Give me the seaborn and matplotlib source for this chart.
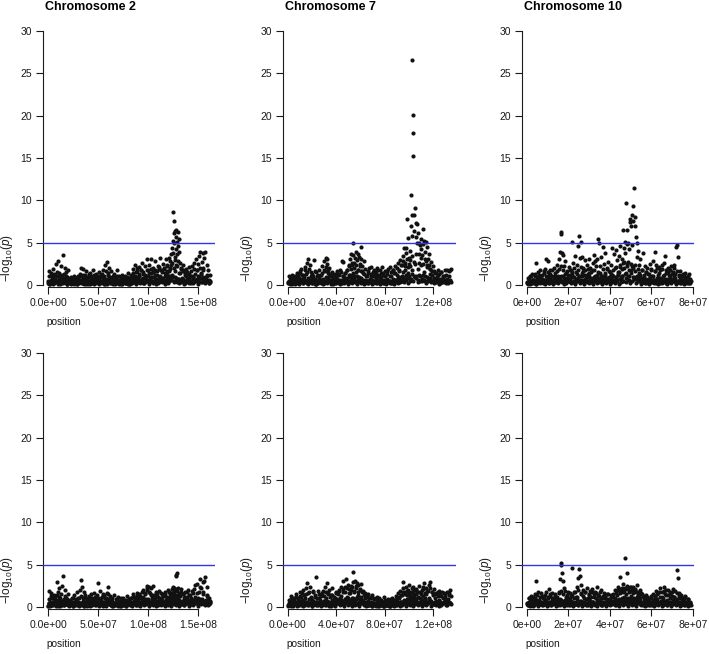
import numpy as np
import pandas as pd
import matplotlib
matplotlib.use("Agg")
import matplotlib.pyplot as plt
import seaborn as sns

# ---- data (positions in Mb, values are -log10 p) ----
titles = ["Chromosome 2", "Chromosome 7", "Chromosome 10"]
threshold = 5

chr2_pos = [
    0.5, 1.2, 1.9, 2.5, 3.4, 4.1, 4.8, 5.6, 6.3, 7.0,
    7.8, 8.5, 9.1, 9.9, 10.6, 11.4, 12.1, 12.9, 13.6, 14.3,
    15.1, 15.8, 16.6, 17.3, 18.1, 18.9, 19.6, 20.4, 21.2, 22.0,
    22.9, 23.8, 24.6, 25.5, 26.4, 27.3, 28.1, 29.0, 29.8, 30.7,
    31.5, 32.4, 33.2, 34.0, 34.9, 35.7, 36.6, 37.4, 38.3, 39.1,
    40.0, 40.8, 41.7, 42.5, 43.4, 44.2, 45.1, 45.9, 46.8, 47.6,
    48.5, 49.3, 50.2, 51.0, 51.9, 52.7, 53.6, 54.4, 55.3, 56.1,
    57.0, 57.8, 58.7, 59.5, 60.4, 61.2, 62.1, 62.9, 63.8, 64.6,
    65.5, 66.4, 67.3, 68.2, 69.1, 70.0, 70.9, 71.8, 72.7, 73.6,
    74.5, 75.4, 76.3, 77.2, 78.1, 79.0, 79.9, 80.8, 81.7, 82.6,
    83.4, 84.2, 85.0, 85.8, 86.6, 87.4, 88.2, 89.0, 89.8, 90.6,
    91.4, 92.2, 93.0, 93.8, 94.6, 95.4, 96.2, 97.0, 97.8, 98.6,
    99.4, 100.2, 101.0, 101.8, 102.6, 103.4, 104.2, 105.0, 105.8, 106.6,
    107.4, 108.2, 109.0, 109.8, 110.6, 111.4, 112.2, 113.0, 113.8, 114.6,
    115.4, 116.2, 117.0, 117.8, 118.6, 119.4, 120.2, 121.0, 121.7, 122.4,
    123.0, 123.6, 124.1, 124.6, 125.0, 125.3, 125.7, 126.0, 126.4, 126.8,
    127.2, 127.6, 128.0, 128.4, 128.8, 129.2, 129.6, 130.0, 130.5, 131.0,
    131.6, 132.3, 133.0, 133.8, 134.6, 135.4, 136.2, 137.0, 137.8, 138.6,
    139.4, 140.2, 141.0, 141.8, 142.6, 143.4, 144.2, 145.0, 145.8, 146.6,
    147.4, 148.2, 149.0, 149.8, 150.6, 151.4, 152.2, 153.0, 153.8, 154.6,
    155.4, 156.2, 157.0, 157.8, 158.6, 159.4, 160.2, 161.0, 161.6, 162.0,
    # low band
    0.9, 2.8, 4.5, 6.0, 7.4, 9.5, 11.0, 12.5, 14.0, 15.5,
    17.0, 18.5, 20.0, 21.6, 23.3, 25.0, 26.8, 28.5, 30.2, 32.0,
    33.6, 35.3, 37.0, 38.7, 40.4, 42.1, 43.8, 45.5, 47.2, 48.9,
    50.6, 52.3, 54.0, 55.7, 57.4, 59.1, 60.8, 62.5, 64.2, 65.9,
    67.6, 69.3, 71.0, 72.7, 74.4, 76.1, 77.8, 79.5, 81.2, 82.9,
    84.6, 86.3, 88.0, 89.7, 91.4, 93.1, 94.8, 96.5, 98.2, 99.9,
    101.6, 103.3, 105.0, 106.7, 108.4, 110.1, 111.8, 113.5, 115.2, 116.9,
    118.6, 120.3, 122.0, 123.4, 124.8, 126.2, 127.4, 128.6, 129.8, 131.2,
    132.7, 134.3, 136.0, 137.7, 139.4, 141.1, 142.8, 144.5, 146.2, 147.9,
    149.6, 151.3, 153.0, 154.7, 156.4, 158.1, 159.8, 161.3, 0.2, 160.6,
    # band 2
    0.3, 1.4, 2.2, 3.0, 3.9, 5.1, 6.0, 6.8, 8.1, 9.0,
    10.2, 11.1, 12.3, 13.2, 14.6, 15.7, 16.4, 17.7, 18.6, 19.9,
    21.0, 21.9, 23.0, 24.1, 25.2, 26.1, 27.0, 28.3, 29.4, 30.4,
    31.2, 32.8, 33.8, 34.6, 35.9, 36.9, 37.8, 39.0, 40.2, 41.3,
    42.2, 43.1, 44.4, 45.6, 46.5, 47.4, 48.7, 49.8, 50.8, 51.6,
    52.9, 53.9, 54.8, 56.0, 57.2, 58.2, 59.2, 60.1, 61.5, 62.4,
    63.4, 64.4, 65.3, 66.7, 67.9, 68.6, 69.7, 70.6, 71.9, 73.0,
    74.0, 75.0, 75.9, 76.9, 77.9, 78.7, 79.9, 81.0, 82.0, 83.0,
    84.0, 85.2, 86.2, 87.0, 88.0, 89.3, 90.3, 91.2, 92.4, 93.4,
    94.2, 95.1, 96.0, 97.3, 98.4, 99.0, 100.5, 101.3, 102.2, 103.0,
    104.5, 105.4, 106.3, 107.1, 107.9, 109.4, 110.3, 111.0, 112.6, 113.4,
    114.2, 115.8, 116.5, 117.4, 118.2, 119.0, 119.8, 120.7, 121.4, 122.2,
    123.2, 124.3, 125.5, 126.6, 127.8, 128.2, 129.4, 130.3, 131.4, 132.5,
    133.4, 134.9, 135.8, 136.6, 138.2, 139.0, 140.6, 141.4, 142.2, 143.8,
    144.8, 145.5, 147.0, 148.6, 150.2, 151.8, 153.4, 155.0, 156.6, 158.5,
    # band 3
    0.7, 2.0, 3.6, 5.3, 6.6, 8.2, 9.8, 11.3, 13.0, 14.8,
    16.2, 17.9, 19.3, 20.8, 22.5, 24.3, 26.0, 27.6, 29.2, 31.0,
    32.6, 34.3, 36.1, 37.6, 39.5, 41.1, 42.9, 44.6, 46.1, 48.0,
    49.6, 51.4, 53.0, 54.6, 56.5, 58.0, 59.8, 61.6, 63.1, 64.9,
    66.5, 68.0, 69.9, 71.5, 73.3, 74.9, 76.6, 78.4, 80.2, 81.8,
    83.7, 85.5, 87.2, 88.7, 90.2, 92.0, 93.6, 95.6, 97.1, 98.9,
    100.8, 102.4, 104.0, 105.7, 107.6, 109.1, 110.8, 112.4, 114.0, 115.9,
    117.6, 119.2, 120.9, 122.6, 124.0, 125.8, 127.0, 128.9, 130.7, 132.0,
    133.6, 135.1, 136.9, 138.5, 140.0, 141.9, 143.5, 145.2, 146.9, 148.5,
    150.0, 151.9, 153.7, 155.2, 157.3, 158.9, 160.5, 161.8, 1.7, 121.8,
]
chr2_top = [
    0.3, 1.6, 0.5, 0.2, 1.1, 0.7, 1.9, 0.4, 1.3, 0.6,
    2.5, 0.3, 1.0, 2.8, 0.5, 1.4, 0.2, 2.2, 0.8, 1.2,
    3.5, 0.6, 2.0, 0.3, 1.5, 0.9, 1.8, 0.4, 0.7, 0.2,
    0.9, 0.3, 0.6, 1.0, 0.2, 0.5, 0.8, 0.3, 1.1, 0.4,
    0.6, 1.3, 2.0, 0.4, 1.9, 0.7, 1.2, 0.3, 1.6, 0.5,
    0.9, 0.3, 1.4, 0.6, 1.1, 0.2, 1.7, 0.5, 0.8, 1.3,
    0.4, 1.0, 0.6, 1.5, 0.3, 1.2, 0.5, 0.9, 1.8, 0.4,
    2.3, 0.7, 2.7, 1.4, 0.3, 2.0, 0.6, 1.6, 0.4, 1.1,
    0.5, 1.3, 0.2, 0.8, 1.8, 0.4, 1.0, 0.3, 0.7, 1.2,
    0.3, 0.9, 0.5, 1.1, 0.2, 0.6, 1.4, 0.4, 0.8, 0.3,
    1.2, 0.5, 1.9, 0.7, 2.3, 0.4, 1.5, 2.0, 0.6, 1.1,
    2.1, 0.4, 1.7, 2.6, 0.8, 1.3, 0.3, 2.2, 1.0, 3.1,
    0.6, 1.8, 2.4, 0.5, 1.4, 3.0, 0.9, 2.0, 0.4, 1.6,
    2.8, 0.7, 1.2, 2.2, 0.3, 1.9, 3.2, 0.8, 1.5, 2.5,
    0.5, 2.0, 1.1, 3.0, 1.6, 2.4, 0.7, 3.2, 1.9, 2.8,
    3.6, 1.2, 4.4, 5.2, 8.6, 3.8, 7.6, 4.9, 6.1, 3.3,
    6.4, 4.2, 5.6, 6.5, 3.7, 5.1, 6.2, 4.6, 5.4, 3.9,
    2.6, 1.4, 2.0, 0.6, 1.7, 2.3, 0.4, 1.2, 1.9, 0.7,
    1.5, 0.3, 2.1, 1.0, 0.5, 1.6, 2.2, 0.8, 2.6, 1.3,
    0.4, 3.0, 1.8, 2.5, 0.9, 3.4, 3.9, 1.4, 2.7, 3.8,
    2.0, 3.2, 3.9, 0.6, 2.4, 1.1, 1.7, 0.5, 1.2, 0.3,
    # low band
    0.2, 0.5, 0.1, 0.4, 0.7, 0.3, 0.6, 0.2, 0.5, 0.8,
    0.3, 0.1, 0.6, 0.4, 0.2, 0.5, 0.3, 0.1, 0.4, 0.6,
    0.2, 0.7, 0.3, 0.5, 0.1, 0.4, 0.6, 0.2, 0.3, 0.5,
    0.8, 0.2, 0.4, 0.1, 0.6, 0.3, 0.9, 0.5, 0.2, 0.4,
    0.3, 0.6, 0.1, 0.5, 0.2, 0.4, 0.3, 0.7, 0.1, 0.5,
    0.9, 0.3, 0.7, 0.4, 1.0, 0.6, 0.2, 0.8, 0.5, 1.1,
    0.4, 0.9, 0.3, 1.2, 0.6, 0.2, 1.0, 0.5, 0.8, 0.3,
    1.3, 0.6, 1.0, 2.4, 0.9, 2.0, 1.6, 2.2, 0.7, 1.4,
    0.5, 0.8, 0.3, 1.0, 0.4, 0.7, 0.2, 0.9, 0.5, 0.6,
    1.0, 0.4, 1.3, 0.7, 0.3, 0.9, 0.5, 0.2, 0.4, 0.6,
    # band 2
    0.2, 1.0, 0.1, 1.4, 0.3, 0.9, 0.2, 1.2, 0.4, 1.5,
    0.3, 1.1, 0.1, 0.8, 0.2, 1.3, 0.4, 1.0, 0.1, 0.6,
    0.3, 0.8, 0.1, 0.6, 0.2, 0.9, 0.3, 0.5, 0.1, 0.7,
    0.2, 1.1, 0.4, 1.2, 0.1, 1.0, 0.3, 0.8, 0.2, 1.3,
    0.1, 0.9, 0.3, 1.2, 0.2, 1.0, 0.4, 0.8, 0.1, 1.1,
    0.3, 1.3, 0.2, 1.0, 0.4, 1.6, 0.1, 1.2, 0.3, 0.9,
    0.2, 0.7, 0.1, 0.9, 0.3, 1.0, 0.2, 0.6, 0.4, 0.8,
    0.1, 0.6, 0.3, 0.8, 0.2, 0.9, 0.1, 0.7, 0.3, 1.0,
    0.2, 1.4, 0.4, 1.1, 0.1, 1.6, 0.3, 1.3, 0.2, 1.8,
    0.4, 1.5, 0.2, 1.2, 0.5, 1.7, 0.1, 1.4, 0.3, 1.9,
    0.2, 1.5, 0.4, 1.8, 0.1, 1.6, 0.3, 2.1, 0.5, 1.7,
    0.3, 1.9, 0.1, 1.4, 0.4, 2.2, 0.2, 1.6, 0.5, 2.0,
    0.6, 2.6, 0.3, 2.9, 0.8, 2.4, 0.4, 2.8, 0.2, 1.9,
    0.3, 1.6, 0.1, 1.4, 0.4, 1.5, 0.2, 1.3, 0.5, 1.1,
    0.2, 1.9, 0.4, 1.7, 0.1, 2.0, 0.3, 1.8, 0.2, 1.2,
    # band 3
    0.1, 0.4, 0.2, 0.6, 0.3, 0.5, 0.1, 0.7, 0.2, 0.4,
    0.3, 0.6, 0.1, 0.5, 0.2, 0.3, 0.1, 0.4, 0.2, 0.5,
    0.4, 0.2, 0.6, 0.1, 0.3, 0.5, 0.2, 0.7, 0.1, 0.4,
    0.2, 0.5, 0.3, 0.7, 0.1, 0.4, 0.6, 0.2, 0.5, 0.3,
    0.1, 0.3, 0.2, 0.5, 0.1, 0.4, 0.2, 0.3, 0.6, 0.1,
    0.5, 0.8, 0.3, 0.6, 0.9, 0.4, 0.7, 0.2, 0.8, 0.5,
    0.3, 0.7, 0.5, 0.9, 0.2, 0.6, 0.8, 0.4, 0.7, 0.3,
    0.6, 0.9, 0.4, 0.8, 1.0, 0.5, 0.9, 0.3, 0.7, 0.6,
    0.4, 0.7, 0.2, 0.6, 0.8, 0.3, 0.5, 0.9, 0.4, 0.7,
    0.5, 0.8, 0.3, 0.9, 0.6, 0.4, 0.2, 0.5, 0.3, 0.8,
]
chr2_bot = [
    0.4, 1.9, 0.2, 1.6, 0.6, 1.0, 0.3, 1.4, 0.5, 1.2,
    0.8, 2.9, 0.3, 1.8, 2.2, 0.6, 1.1, 0.4, 2.5, 0.7,
    3.6, 0.5, 1.3, 2.0, 0.3, 0.9, 1.5, 0.4, 0.7, 0.2,
    0.6, 0.3, 1.0, 0.5, 1.4, 0.2, 0.8, 1.7, 0.4, 1.1,
    2.0, 0.5, 3.2, 2.4, 0.7, 1.8, 0.3, 1.2, 0.6, 0.9,
    0.4, 1.3, 0.7, 1.5, 0.2, 1.0, 0.5, 1.6, 0.3, 0.8,
    1.4, 0.6, 2.8, 0.4, 1.9, 0.8, 1.2, 0.3, 1.5, 0.6,
    1.0, 0.4, 1.6, 0.9, 2.4, 0.3, 1.3, 0.6, 1.1, 0.5,
    0.2, 1.4, 0.5, 0.9, 0.3, 1.2, 0.7, 0.4, 1.0, 0.6,
    0.3, 1.1, 0.5, 0.8, 0.2, 1.3, 0.4, 0.9, 0.6, 0.3,
    1.0, 0.4, 1.5, 0.7, 1.2, 0.3, 0.9, 1.6, 0.5, 1.1,
    0.6, 1.3, 0.4, 1.8, 0.7, 1.2, 0.3, 1.5, 0.9, 2.0,
    2.5, 0.8, 2.4, 1.6, 0.5, 2.2, 1.1, 2.5, 0.6, 1.4,
    0.9, 1.7, 0.4, 1.2, 0.7, 1.9, 0.5, 1.0, 1.5, 0.6,
    1.3, 0.4, 1.8, 0.8, 1.2, 0.5, 2.0, 0.9, 1.5, 0.7,
    1.6, 2.1, 0.6, 1.3, 2.3, 0.9, 1.8, 0.5, 2.2, 1.1,
    1.4, 0.7, 3.8, 3.6, 4.0, 1.9, 1.2, 2.2, 0.8, 1.6,
    0.5, 1.3, 2.1, 0.7, 1.5, 0.4, 1.0, 1.8, 0.6, 1.2,
    0.9, 2.0, 0.4, 1.4, 0.7, 1.1, 0.3, 1.6, 0.8, 2.6,
    1.2, 0.5, 2.7, 1.0, 1.8, 0.6, 3.3, 2.2, 0.9, 2.9,
    1.5, 3.0, 3.5, 0.8, 2.3, 1.4, 0.6, 1.1, 0.4, 0.7,
    # low band
    0.4, 0.2, 0.6, 0.3, 0.5, 0.1, 0.8, 0.4, 0.2, 0.6,
    0.5, 0.3, 0.2, 0.7, 0.4, 0.1, 0.5, 0.3, 0.6, 0.2,
    0.4, 0.3, 0.6, 0.1, 0.5, 0.7, 0.2, 0.4, 0.3, 0.6,
    0.3, 0.5, 0.2, 0.6, 0.4, 0.8, 0.3, 0.5, 0.1, 0.4,
    0.5, 0.2, 0.4, 0.1, 0.3, 0.6, 0.2, 0.4, 0.5, 0.3,
    0.6, 0.4, 0.2, 0.7, 0.5, 0.3, 0.8, 0.6, 0.4, 0.9,
    0.5, 0.3, 0.7, 0.4, 0.6, 0.2, 0.5, 0.8, 0.3, 0.6,
    0.4, 0.7, 0.3, 0.9, 0.5, 0.6, 1.2, 0.8, 0.4, 0.7,
    0.3, 0.6, 0.2, 0.5, 0.4, 0.7, 0.3, 0.8, 0.6, 0.9,
    0.5, 0.8, 0.4, 0.7, 0.3, 0.6, 0.2, 0.4, 0.1, 0.5,
    # band 2
    0.1, 0.9, 0.3, 1.3, 0.2, 1.1, 0.4, 0.8, 0.1, 1.4,
    0.3, 1.2, 0.1, 1.5, 0.4, 0.9, 0.2, 1.1, 0.3, 0.7,
    0.2, 0.8, 0.4, 1.0, 0.1, 0.6, 0.3, 0.9, 0.2, 1.1,
    0.4, 1.3, 0.2, 1.0, 0.1, 1.4, 0.3, 0.9, 0.2, 1.2,
    0.1, 1.1, 0.3, 0.8, 0.2, 1.2, 0.4, 1.0, 0.1, 0.9,
    0.3, 1.2, 0.1, 1.4, 0.2, 1.0, 0.4, 1.5, 0.3, 0.8,
    0.2, 0.7, 0.1, 0.5, 0.3, 0.9, 0.2, 0.6, 0.1, 0.8,
    0.3, 0.6, 0.2, 0.7, 0.1, 0.8, 0.3, 0.9, 0.2, 1.1,
    0.1, 1.2, 0.4, 1.0, 0.2, 1.3, 0.3, 1.5, 0.1, 1.1,
    0.4, 2.0, 0.2, 1.6, 0.3, 2.2, 0.1, 1.8, 0.4, 1.4,
    0.2, 1.4, 0.3, 1.2, 0.1, 1.5, 0.4, 1.0, 0.2, 1.6,
    0.3, 1.3, 0.1, 1.5, 0.4, 1.1, 0.2, 1.7, 0.3, 1.2,
    0.1, 1.6, 0.3, 1.9, 0.2, 2.1, 0.4, 1.4, 0.1, 1.8,
    0.3, 1.5, 0.2, 1.2, 0.4, 1.8, 0.1, 1.4, 0.3, 1.9,
    0.2, 2.1, 0.4, 1.6, 0.1, 2.3, 0.3, 1.7, 0.2, 1.3,
    # band 3
    0.3, 0.1, 0.5, 0.2, 0.6, 0.4, 0.2, 0.5, 0.3, 0.7,
    0.2, 0.4, 0.6, 0.1, 0.3, 0.5, 0.2, 0.6, 0.4, 0.1,
    0.5, 0.3, 0.1, 0.6, 0.4, 0.2, 0.7, 0.3, 0.5, 0.2,
    0.4, 0.2, 0.6, 0.3, 0.5, 0.1, 0.4, 0.7, 0.2, 0.5,
    0.2, 0.5, 0.1, 0.4, 0.3, 0.2, 0.5, 0.1, 0.3, 0.4,
    0.3, 0.6, 0.4, 0.8, 0.2, 0.5, 0.7, 0.3, 0.6, 0.8,
    0.6, 0.3, 0.8, 0.5, 0.7, 0.2, 0.6, 0.4, 0.8, 0.5,
    0.4, 0.7, 0.3, 0.6, 0.5, 0.8, 0.4, 0.9, 0.3, 0.6,
    0.5, 0.3, 0.7, 0.4, 0.6, 0.8, 0.3, 0.5, 0.7, 0.4,
    0.6, 0.9, 0.4, 0.7, 0.5, 0.8, 0.3, 0.6, 0.2, 0.5,
]

chr7_pos = [
    0.5, 1.1, 1.8, 2.4, 3.1, 3.7, 4.4, 5.0, 5.7, 6.3,
    7.0, 7.6, 8.3, 8.9, 9.6, 10.2, 10.9, 11.5, 12.2, 12.8,
    13.5, 14.1, 14.8, 15.4, 16.1, 16.7, 17.4, 18.0, 18.7, 19.3,
    20.0, 20.7, 21.4, 22.1, 22.8, 23.5, 24.2, 24.9, 25.6, 26.3,
    27.0, 27.7, 28.4, 29.1, 29.8, 30.5, 31.2, 31.9, 32.6, 33.3,
    34.0, 34.7, 35.4, 36.1, 36.8, 37.5, 38.2, 38.9, 39.6, 40.3,
    41.0, 41.7, 42.4, 43.1, 43.8, 44.5, 45.2, 45.9, 46.6, 47.3,
    48.0, 48.7, 49.4, 50.1, 50.8, 51.5, 52.2, 52.9, 53.5, 54.1,
    54.7, 55.3, 55.9, 56.5, 57.1, 57.7, 58.3, 58.9, 59.5, 60.1,
    60.7, 61.3, 62.0, 62.7, 63.4, 64.1, 64.8, 65.5, 66.2, 66.9,
    67.6, 68.3, 69.0, 69.7, 70.4, 71.1, 71.8, 72.5, 73.2, 73.9,
    74.6, 75.3, 76.0, 76.7, 77.4, 78.1, 78.8, 79.5, 80.2, 80.9,
    81.6, 82.3, 83.0, 83.7, 84.4, 85.1, 85.8, 86.5, 87.2, 87.9,
    88.6, 89.3, 90.0, 90.7, 91.4, 92.1, 92.8, 93.5, 94.2, 94.9,
    95.5, 96.1, 96.7, 97.3, 97.9, 98.5, 99.1, 99.7, 100.3, 100.9,
    101.4, 101.9, 102.3, 102.7, 103.0, 103.2, 103.5, 103.8, 104.2, 104.6,
    105.0, 105.5, 106.0, 106.5, 107.0, 107.5, 108.0, 108.5, 109.1, 109.7,
    110.3, 110.9, 111.5, 112.1, 112.7, 113.3, 113.9, 114.5, 115.1, 115.7,
    116.3, 116.9, 117.6, 118.3, 119.0, 119.7, 120.4, 121.1, 121.8, 122.5,
    123.2, 123.9, 124.6, 125.3, 126.0, 126.7, 127.4, 128.1, 128.8, 129.5,
    130.2, 130.9, 131.6, 132.3, 133.0, 133.7, 134.4, 135.0,
    # low band
    0.2, 1.5, 2.9, 4.2, 5.5, 6.9, 8.2, 9.5, 10.9, 12.2,
    13.6, 14.9, 16.3, 17.6, 19.0, 20.3, 21.7, 23.0, 24.4, 25.7,
    27.1, 28.4, 29.8, 31.1, 32.5, 33.8, 35.2, 36.5, 37.9, 39.2,
    40.6, 41.9, 43.3, 44.6, 46.0, 47.3, 48.7, 50.0, 51.4, 52.7,
    54.1, 55.4, 56.8, 58.1, 59.5, 60.8, 62.2, 63.5, 64.9, 66.2,
    67.6, 68.9, 70.3, 71.6, 73.0, 74.3, 75.7, 77.0, 78.4, 79.7,
    81.1, 82.4, 83.8, 85.1, 86.5, 87.8, 89.2, 90.5, 91.9, 93.2,
    94.6, 95.9, 97.0, 98.2, 99.4, 100.6, 101.7, 102.9, 104.0, 105.2,
    106.3, 107.5, 108.7, 109.9, 111.1, 112.3, 113.6, 114.9, 116.2, 117.6,
    119.0, 120.5, 122.0, 123.6, 125.2, 126.8, 128.4, 130.0, 131.6, 133.4,
    # band 2
    0.3, 1.4, 2.1, 3.0, 4.0, 4.7, 5.6, 6.6, 7.3, 8.4,
    9.2, 10.0, 11.0, 11.8, 12.6, 13.8, 14.5, 15.1, 16.4, 17.1,
    18.3, 19.0, 19.8, 20.9, 21.6, 22.5, 23.2, 24.5, 25.3, 26.0,
    27.2, 28.0, 28.8, 29.6, 30.7, 31.5, 32.3, 33.1, 34.2, 35.0,
    35.9, 36.7, 37.7, 38.5, 39.3, 40.0, 41.2, 42.0, 42.8, 43.6,
    44.8, 45.5, 46.4, 47.1, 48.3, 49.0, 49.8, 50.5, 51.2, 52.0,
    52.6, 53.3, 54.0, 54.9, 55.6, 56.4, 57.3, 58.0, 59.0, 59.8,
    60.5, 61.6, 62.5, 63.2, 64.3, 65.1, 65.9, 66.6, 67.8, 68.6,
    69.4, 70.2, 71.0, 71.9, 72.8, 73.6, 74.3, 75.1, 76.3, 77.1,
    78.0, 78.9, 79.8, 80.6, 81.3, 82.1, 82.9, 84.0, 84.8, 85.5,
    86.2, 87.0, 88.0, 88.9, 89.7, 90.4, 91.2, 92.0, 93.0, 93.8,
    94.5, 95.3, 96.0, 96.9, 97.6, 98.3, 99.0, 99.8, 100.6, 101.2,
    102.0, 102.8, 103.6, 104.4, 105.3, 106.2, 107.2, 108.2, 109.2, 110.1,
    111.0, 111.8, 112.5, 113.5, 114.2, 115.0, 116.0, 117.1, 118.0, 119.3,
    120.6, 121.5, 122.8, 124.0, 125.0, 126.3, 127.6, 129.0, 131.1, 133.0,
    # band 3
    0.8, 2.6, 3.5, 4.9, 6.1, 7.9, 8.7, 10.5, 11.3, 13.1,
    14.4, 15.8, 17.0, 18.4, 19.6, 21.1, 22.3, 23.8, 25.0, 26.6,
    27.5, 29.3, 30.1, 31.8, 33.0, 34.5, 35.7, 37.2, 38.4, 39.9,
    41.4, 42.6, 44.0, 45.1, 46.8, 47.8, 49.2, 50.3, 51.8, 53.0,
    54.4, 55.8, 57.0, 58.5, 59.2, 60.3, 61.9, 63.7, 64.6, 66.5,
    67.3, 69.2, 70.7, 72.2, 73.4, 74.9, 76.5, 77.8, 79.2, 80.4,
    81.9, 83.3, 84.6, 86.0, 87.5, 88.4, 89.9, 91.6, 92.5, 94.0,
    95.2, 96.4, 97.5, 98.8, 100.0, 101.0, 102.5, 104.8, 105.9, 107.8,
    108.9, 110.6, 112.0, 113.1, 114.7, 116.5, 117.9, 119.6, 121.2, 122.3,
    123.8, 125.5, 127.0, 128.6, 129.9, 131.3, 132.6, 133.9, 134.8, 66.0,
]
chr7_top = [
    0.4, 1.0, 0.2, 0.7, 1.2, 0.3, 0.6, 0.9, 0.2, 1.1,
    0.5, 1.4, 0.3, 0.8, 1.6, 0.4, 1.9, 0.6, 1.2, 0.3,
    0.9, 2.1, 0.4, 1.5, 2.6, 3.1, 0.6, 2.3, 1.1, 0.5,
    1.3, 0.3, 2.9, 0.7, 1.5, 0.4, 1.0, 0.2, 1.8, 0.6,
    0.4, 1.2, 2.2, 0.6, 2.8, 1.6, 3.2, 2.5, 3.0, 1.4,
    2.0, 0.5, 1.1, 0.3, 1.5, 0.7, 1.2, 0.4, 0.9, 1.6,
    0.3, 1.3, 0.6, 1.8, 0.4, 2.8, 1.1, 2.7, 0.5, 1.4,
    0.8, 1.7, 0.4, 2.2, 1.2, 3.0, 3.7, 2.4, 4.9, 3.5,
    2.6, 3.2, 1.5, 3.9, 2.9, 3.6, 1.8, 3.3, 2.5, 3.1,
    4.5, 2.2, 1.4, 2.8, 0.6, 1.9, 1.1, 0.4, 1.6, 2.0,
    0.7, 1.3, 2.1, 0.4, 1.0, 1.8, 0.3, 1.5, 0.8, 2.0,
    1.2, 0.5, 1.7, 0.9, 2.1, 0.3, 1.4, 0.6, 1.0, 0.4,
    1.6, 0.7, 1.9, 0.4, 2.1, 1.1, 0.3, 1.8, 0.6, 1.4,
    2.2, 0.5, 1.2, 2.6, 0.8, 1.7, 2.9, 0.4, 2.3, 3.4,
    1.5, 4.3, 2.6, 3.8, 4.4, 7.8, 2.1, 5.5, 3.2, 4.0,
    6.9, 10.6, 5.8, 8.2, 26.6, 20.1, 17.9, 15.2, 8.3, 6.4,
    9.1, 7.3, 5.6, 7.2, 4.9, 6.1, 5.0, 3.7, 4.7, 4.2,
    5.4, 3.5, 6.6, 4.8, 5.2, 3.9, 5.1, 2.8, 4.5, 3.1,
    2.4, 3.6, 1.9, 2.7, 1.2, 2.2, 0.8, 1.6, 0.5, 1.4,
    0.9, 1.7, 0.4, 1.3, 0.7, 1.5, 0.3, 1.1, 0.6, 1.8,
    0.5, 1.2, 1.8, 0.4, 1.0, 1.7, 0.6, 1.9,
    # low band
    0.3, 0.6, 0.2, 0.5, 0.1, 0.4, 0.7, 0.3, 0.5, 0.2,
    0.6, 0.4, 0.8, 0.3, 0.5, 0.2, 0.6, 0.1, 0.4, 0.7,
    0.3, 0.5, 0.2, 0.9, 0.6, 1.1, 0.4, 0.2, 0.5, 0.3,
    0.7, 0.2, 0.5, 0.3, 0.8, 0.4, 0.6, 0.2, 1.2, 0.7,
    1.4, 0.5, 1.0, 0.8, 0.3, 1.6, 0.6, 0.2, 0.5, 0.4,
    0.3, 0.6, 0.2, 0.5, 0.8, 0.3, 0.4, 0.7, 0.2, 0.5,
    0.6, 0.3, 0.5, 0.2, 0.7, 0.4, 0.6, 0.3, 0.9, 0.5,
    1.1, 0.7, 1.8, 0.9, 1.4, 2.2, 0.6, 1.7, 1.0, 2.5,
    0.8, 1.9, 1.2, 2.4, 0.7, 1.5, 1.0, 2.1, 0.6, 1.3,
    0.4, 0.8, 0.3, 0.6, 0.2, 0.5, 0.9, 0.3, 0.6, 0.4,
    # band 2
    0.2, 0.9, 0.1, 0.7, 0.3, 1.1, 0.2, 0.8, 0.4, 1.0,
    0.1, 1.4, 0.3, 1.2, 0.2, 1.7, 0.4, 1.3, 0.1, 1.9,
    0.3, 1.5, 0.2, 1.1, 0.4, 1.6, 0.1, 1.2, 0.3, 0.9,
    0.2, 1.4, 0.1, 1.8, 0.3, 2.1, 0.2, 1.7, 0.4, 1.3,
    0.1, 1.0, 0.3, 1.3, 0.2, 0.8, 0.4, 1.2, 0.1, 1.5,
    0.3, 1.1, 0.2, 1.4, 0.4, 1.8, 0.1, 2.3, 0.3, 1.9,
    0.2, 2.6, 0.5, 2.0, 0.3, 2.4, 0.1, 1.7, 0.4, 2.2,
    0.2, 1.6, 0.1, 1.3, 0.3, 1.0, 0.2, 1.4, 0.4, 1.1,
    0.1, 1.5, 0.3, 1.2, 0.2, 1.7, 0.4, 1.0, 0.1, 1.4,
    0.3, 1.2, 0.2, 1.6, 0.1, 1.3, 0.4, 1.1, 0.2, 1.5,
    0.3, 1.8, 0.1, 1.4, 0.4, 2.0, 0.2, 1.6, 0.3, 2.4,
    0.5, 2.8, 0.3, 2.2, 0.6, 3.1, 0.2, 2.5, 0.4, 2.9,
    0.7, 3.4, 0.4, 2.7, 0.9, 3.6, 0.3, 2.6, 0.5, 3.2,
    0.4, 2.5, 0.6, 3.0, 0.2, 2.3, 0.5, 1.9, 0.3, 1.6,
    0.2, 1.4, 0.4, 1.2, 0.1, 1.5, 0.3, 1.1, 0.2, 1.6,
    # band 3
    0.2, 0.4, 0.1, 0.5, 0.3, 0.6, 0.2, 0.4, 0.7, 0.3,
    0.5, 0.2, 0.6, 0.3, 0.8, 0.4, 0.1, 0.5, 0.3, 0.6,
    0.4, 0.7, 0.2, 0.5, 0.8, 0.3, 0.6, 0.1, 0.4, 0.2,
    0.5, 0.3, 0.6, 0.2, 0.4, 0.7, 0.5, 0.9, 0.6, 1.0,
    0.7, 1.1, 0.5, 0.9, 0.6, 0.8, 0.4, 0.3, 0.5, 0.2,
    0.4, 0.6, 0.3, 0.5, 0.2, 0.4, 0.7, 0.3, 0.5, 0.2,
    0.6, 0.3, 0.5, 0.2, 0.4, 0.6, 0.3, 0.7, 0.4, 0.8,
    0.9, 0.6, 1.2, 0.8, 1.0, 0.7, 1.3, 0.9, 1.1, 0.6,
    1.0, 0.7, 1.2, 0.5, 0.9, 0.6, 0.8, 0.4, 0.6, 0.3,
    0.5, 0.2, 0.6, 0.4, 0.3, 0.7, 0.2, 0.5, 0.3, 0.4,
]
chr7_bot = [
    0.3, 0.8, 0.5, 1.3, 0.2, 0.9, 0.4, 1.1, 0.6, 0.3,
    1.5, 0.4, 1.0, 0.7, 1.8, 0.3, 1.2, 0.5, 2.0, 0.8,
    1.4, 0.6, 2.2, 2.8, 0.4, 1.6, 0.9, 2.4, 0.5, 1.1,
    0.7, 1.9, 0.3, 1.2, 0.6, 3.5, 1.0, 0.4, 1.5, 0.8,
    0.3, 1.3, 0.6, 1.9, 0.4, 2.3, 1.1, 2.8, 0.7, 1.6,
    2.0, 0.5, 1.4, 0.8, 2.2, 0.4, 1.2, 0.6, 1.7, 0.9,
    1.5, 0.4, 2.0, 1.0, 2.4, 0.7, 1.8, 3.0, 0.5, 2.3,
    3.3, 1.2, 2.6, 0.8, 2.1, 1.6, 2.5, 1.0, 4.1, 2.9,
    1.8, 3.0, 2.2, 0.9, 2.8, 1.4, 2.6, 0.6, 2.0, 1.2,
    2.7, 0.8, 1.9, 0.5, 1.6, 1.1, 0.4, 1.4, 0.7, 1.0,
    0.3, 1.2, 0.6, 1.4, 0.4, 0.9, 0.2, 1.1, 0.5, 0.8,
    0.3, 1.0, 0.5, 0.8, 0.2, 0.6, 0.4, 1.2, 0.3, 0.7,
    0.5, 0.2, 0.9, 0.4, 0.6, 0.3, 1.1, 0.5, 0.2, 0.8,
    0.4, 1.3, 0.7, 1.6, 0.3, 1.0, 1.9, 0.6, 1.4, 2.2,
    2.9, 0.8, 1.7, 2.3, 0.5, 1.4, 2.0, 0.9, 2.6, 1.2,
    1.8, 0.6, 2.2, 1.3, 0.4, 1.6, 2.4, 0.9, 1.1, 2.0,
    0.7, 1.5, 2.1, 0.5, 1.8, 1.2, 0.4, 2.5, 1.0, 1.7,
    0.6, 2.0, 1.3, 2.4, 2.8, 0.8, 1.5, 2.2, 0.5, 1.9,
    2.6, 1.1, 2.9, 0.7, 1.8, 1.4, 0.4, 2.1, 1.0, 1.6,
    0.5, 1.3, 1.9, 0.8, 1.5, 0.3, 1.7, 1.0, 0.6, 1.4,
    1.2, 0.5, 1.8, 0.9, 1.6, 0.4, 2.0, 1.3,
    # low band
    0.2, 0.5, 0.4, 0.1, 0.6, 0.3, 0.5, 0.2, 0.7, 0.4,
    0.3, 0.6, 0.2, 0.5, 0.4, 0.8, 0.3, 0.6, 0.2, 0.5,
    0.4, 0.2, 0.7, 0.3, 0.5, 0.6, 0.2, 0.4, 0.8, 0.3,
    0.5, 0.7, 0.3, 0.6, 0.4, 0.9, 0.5, 1.1, 0.7, 0.8,
    1.0, 0.6, 1.2, 0.4, 0.9, 0.5, 0.7, 0.3, 0.6, 0.2,
    0.4, 0.2, 0.5, 0.3, 0.1, 0.4, 0.2, 0.3, 0.1, 0.4,
    0.2, 0.3, 0.1, 0.4, 0.2, 0.3, 0.5, 0.2, 0.4, 0.6,
    0.3, 0.7, 0.5, 0.9, 0.4, 0.6, 0.8, 0.3, 0.7, 0.5,
    0.9, 0.4, 0.6, 0.3, 0.8, 0.5, 1.0, 0.6, 0.4, 0.7,
    0.5, 0.3, 0.6, 0.4, 0.7, 0.2, 0.5, 0.8, 0.3, 0.6,
    # band 2
    0.1, 0.8, 0.3, 1.1, 0.2, 0.7, 0.4, 1.2, 0.1, 0.9,
    0.3, 1.3, 0.2, 1.6, 0.1, 1.1, 0.4, 1.5, 0.2, 1.8,
    0.3, 1.2, 0.1, 1.7, 0.4, 1.4, 0.2, 1.9, 0.3, 1.1,
    0.1, 1.6, 0.3, 1.3, 0.2, 1.8, 0.4, 1.5, 0.1, 1.2,
    0.3, 1.4, 0.2, 1.1, 0.1, 1.6, 0.4, 1.9, 0.2, 1.3,
    0.3, 2.1, 0.1, 1.8, 0.4, 2.2, 0.2, 1.6, 0.3, 2.0,
    0.1, 2.3, 0.4, 1.9, 0.2, 2.5, 0.3, 1.7, 0.1, 2.1,
    0.4, 1.8, 0.2, 1.4, 0.1, 1.2, 0.3, 1.5, 0.2, 1.0,
    0.1, 1.1, 0.3, 0.9, 0.2, 1.2, 0.1, 0.8, 0.3, 0.7,
    0.2, 0.6, 0.1, 0.8, 0.3, 0.5, 0.2, 0.7, 0.1, 0.9,
    0.3, 0.6, 0.1, 0.8, 0.2, 1.0, 0.3, 1.2, 0.1, 1.4,
    0.2, 1.7, 0.4, 1.5, 0.1, 1.9, 0.3, 1.6, 0.2, 1.3,
    0.4, 1.8, 0.1, 1.4, 0.3, 2.0, 0.2, 1.7, 0.4, 1.5,
    0.1, 2.1, 0.3, 1.6, 0.2, 1.9, 0.4, 2.2, 0.1, 1.7,
    0.3, 1.5, 0.2, 1.8, 0.1, 1.3, 0.4, 1.6, 0.2, 1.4,
    # band 3
    0.4, 0.1, 0.5, 0.3, 0.6, 0.2, 0.4, 0.7, 0.3, 0.5,
    0.2, 0.6, 0.3, 0.5, 0.1, 0.7, 0.4, 0.6, 0.2, 0.5,
    0.3, 0.5, 0.7, 0.2, 0.6, 0.4, 0.1, 0.5, 0.3, 0.6,
    0.7, 0.4, 0.8, 0.5, 0.9, 0.6, 0.7, 0.4, 0.8, 0.5,
    0.9, 0.6, 1.0, 0.5, 0.8, 0.4, 0.6, 0.3, 0.5, 0.2,
    0.3, 0.1, 0.4, 0.2, 0.3, 0.1, 0.4, 0.2, 0.1, 0.3,
    0.2, 0.4, 0.1, 0.3, 0.2, 0.5, 0.3, 0.4, 0.6, 0.3,
    0.5, 0.7, 0.4, 0.8, 0.5, 0.6, 0.3, 0.7, 0.9, 0.4,
    0.6, 0.8, 0.5, 0.7, 0.4, 0.9, 0.6, 0.5, 0.3, 0.7,
    0.4, 0.6, 0.3, 0.5, 0.7, 0.2, 0.6, 0.4, 0.3, 0.2,
]

chr10_pos = [
    0.2, 0.6, 1.0, 1.4, 1.7, 2.1, 2.5, 2.9, 3.3, 3.7,
    4.1, 4.5, 4.9, 5.3, 5.7, 6.1, 6.5, 6.9, 7.3, 7.7,
    8.1, 8.5, 8.9, 9.3, 9.7, 10.1, 10.5, 10.9, 11.3, 11.7,
    12.1, 12.5, 12.9, 13.3, 13.7, 14.1, 14.5, 14.9, 15.3, 15.7,
    16.1, 16.4, 16.6, 16.9, 17.3, 17.7, 18.1, 18.5, 18.9, 19.3,
    19.7, 20.1, 20.5, 20.9, 21.3, 21.8, 22.2, 22.6, 23.0, 23.4,
    23.8, 24.2, 24.6, 25.0, 25.4, 25.8, 26.2, 26.6, 27.0, 27.4,
    27.8, 28.2, 28.6, 29.0, 29.4, 29.8, 30.2, 30.6, 31.0, 31.4,
    31.8, 32.2, 32.6, 33.0, 33.4, 33.8, 34.2, 34.6, 35.0, 35.4,
    35.8, 36.2, 36.6, 37.0, 37.4, 37.8, 38.2, 38.6, 39.0, 39.4,
    39.8, 40.2, 40.6, 41.0, 41.4, 41.8, 42.2, 42.6, 43.0, 43.4,
    43.8, 44.2, 44.6, 45.0, 45.4, 45.8, 46.2, 46.5, 46.8, 47.1,
    47.4, 47.7, 48.0, 48.3, 48.6, 48.9, 49.2, 49.5, 49.8, 50.1,
    50.4, 50.7, 51.0, 51.3, 51.6, 51.9, 52.2, 52.5, 52.8, 53.1,
    53.5, 53.9, 54.3, 54.7, 55.1, 55.5, 55.9, 56.3, 56.7, 57.1,
    57.5, 57.9, 58.3, 58.7, 59.1, 59.5, 59.9, 60.3, 60.7, 61.1,
    61.5, 61.9, 62.3, 62.7, 63.1, 63.5, 63.9, 64.3, 64.7, 65.1,
    65.5, 65.9, 66.3, 66.7, 67.1, 67.5, 67.9, 68.3, 68.7, 69.1,
    69.5, 69.9, 70.3, 70.7, 71.1, 71.5, 71.9, 72.3, 72.7, 73.1,
    73.5, 73.9, 74.3, 74.7, 75.1, 75.5, 75.9, 76.3, 76.7, 77.1,
    77.5, 77.9, 78.3,
    # low band
    0.4, 1.2, 2.0, 2.7, 3.5, 4.3, 5.1, 5.9, 6.7, 7.5,
    8.3, 9.1, 9.9, 10.7, 11.5, 12.3, 13.1, 13.9, 14.7, 15.5,
    16.3, 17.1, 17.9, 18.7, 19.5, 20.3, 21.1, 21.9, 22.7, 23.5,
    24.3, 25.1, 25.9, 26.7, 27.5, 28.3, 29.1, 29.9, 30.7, 31.5,
    32.3, 33.1, 33.9, 34.7, 35.5, 36.3, 37.1, 37.9, 38.7, 39.5,
    40.3, 41.1, 41.9, 42.7, 43.5, 44.3, 45.1, 45.9, 46.7, 47.5,
    48.3, 49.1, 49.9, 50.7, 51.5, 52.3, 53.1, 53.9, 54.7, 55.5,
    56.3, 57.1, 57.9, 58.7, 59.5, 60.3, 61.1, 61.9, 62.7, 63.5,
    64.3, 65.1, 65.9, 66.7, 67.5, 68.3, 69.1, 69.9, 70.7, 71.5,
    72.3, 73.1, 73.9, 74.7, 75.5, 76.3, 77.1, 77.9, 78.6, 79.0,
    # band 2
    0.3, 0.8, 1.3, 1.9, 2.3, 2.8, 3.4, 3.9, 4.4, 4.9,
    5.5, 6.0, 6.4, 7.0, 7.6, 8.0, 8.6, 9.1, 9.6, 10.2,
    10.7, 11.2, 11.8, 12.2, 12.7, 13.4, 13.9, 14.3, 14.9, 15.4,
    15.9, 16.5, 17.0, 17.5, 18.0, 18.6, 19.0, 19.6, 20.2, 20.6,
    21.2, 21.7, 22.3, 22.8, 23.3, 23.9, 24.4, 24.8, 25.5, 25.9,
    26.5, 27.1, 27.6, 28.0, 28.5, 29.2, 29.7, 30.1, 30.8, 31.2,
    31.7, 32.4, 32.9, 33.3, 33.9, 34.4, 35.0, 35.6, 36.0, 36.5,
    37.1, 37.6, 38.1, 38.7, 39.2, 39.6, 40.1, 40.7, 41.2, 41.7,
    42.3, 42.8, 43.3, 43.9, 44.4, 44.9, 45.3, 45.9, 46.4, 46.9,
    47.5, 48.1, 48.5, 49.0, 49.6, 50.2, 50.6, 51.1, 51.7, 52.3,
    52.7, 53.3, 53.8, 54.2, 54.8, 55.4, 55.8, 56.4, 57.0, 57.4,
    58.0, 58.4, 59.0, 59.6, 60.0, 60.5, 61.2, 61.7, 62.1, 62.6,
    63.3, 63.7, 64.2, 64.9, 65.3, 65.8, 66.4, 66.9, 67.4, 67.8,
    68.5, 69.0, 69.4, 70.0, 70.5, 71.0, 71.6, 72.1, 72.6, 73.2,
    73.7, 74.2, 74.8, 75.3, 75.8, 76.4, 76.9, 77.4, 77.8, 78.4,
    # band 3
    0.1, 0.9, 1.6, 2.4, 3.1, 3.8, 4.7, 5.4, 6.2, 7.1,
    7.9, 8.7, 9.4, 10.3, 11.0, 11.9, 12.6, 13.5, 14.2, 15.1,
    15.8, 16.7, 17.4, 18.3, 19.1, 19.9, 20.7, 21.5, 22.4, 23.1,
    23.9, 24.7, 25.6, 26.3, 27.2, 27.9, 28.8, 29.5, 30.4, 31.1,
    31.9, 32.7, 33.6, 34.3, 35.2, 35.9, 36.8, 37.5, 38.4, 39.1,
    39.9, 40.8, 41.5, 42.4, 43.1, 44.0, 44.7, 45.6, 46.3, 47.2,
    47.9, 48.8, 49.4, 50.3, 51.2, 51.9, 52.9, 53.6, 54.5, 55.2,
    56.0, 56.8, 57.6, 58.5, 59.2, 60.1, 60.8, 61.6, 62.4, 63.2,
    64.0, 64.7, 65.6, 66.2, 67.1, 67.9, 68.8, 69.6, 70.4, 71.2,
    72.0, 72.8, 73.6, 74.4, 75.2, 76.0, 76.8, 77.6, 78.1, 78.8,
]
chr10_top = [
    0.3, 0.8, 0.2, 1.0, 0.5, 0.3, 1.3, 0.6, 0.2, 1.1,
    0.4, 2.6, 0.7, 1.5, 0.3, 0.9, 1.8, 0.5, 1.2, 0.3,
    1.6, 0.6, 1.9, 3.0, 0.4, 2.8, 1.2, 0.7, 1.7, 0.3,
    1.0, 0.5, 2.0, 0.8, 1.4, 0.3, 2.4, 1.1, 3.0, 0.6,
    3.9, 6.2, 6.0, 3.8, 3.5, 2.2, 1.3, 2.8, 0.5, 1.6,
    0.7, 2.1, 1.2, 0.4, 1.8, 5.1, 2.6, 0.9, 3.4, 1.5,
    0.4, 2.3, 4.6, 5.8, 3.2, 1.1, 5.1, 3.3, 2.0, 0.6,
    1.7, 2.9, 0.5, 2.4, 1.3, 3.1, 0.8, 2.0, 1.5, 0.3,
    2.6, 3.5, 1.0, 2.8, 0.6, 3.0, 5.4, 4.9, 2.2, 1.4,
    3.3, 0.7, 4.5, 2.5, 1.2, 3.8, 0.4, 1.9, 2.7, 0.9,
    1.5, 0.5, 2.3, 4.4, 1.0, 3.6, 2.0, 0.6, 4.1, 2.9,
    1.3, 3.4, 2.1, 4.6, 0.8, 3.0, 6.5, 2.6, 4.3, 5.1,
    3.8, 9.7, 4.8, 6.5, 2.7, 5.0, 4.2, 7.8, 7.4, 6.9,
    4.7, 8.2, 7.6, 9.3, 11.4, 7.0, 8.0, 5.6, 4.9, 3.3,
    4.0, 2.4, 1.2, 3.1, 0.6, 1.8, 3.8, 0.9, 2.2, 0.4,
    1.5, 2.0, 0.7, 1.3, 2.5, 0.4, 1.9, 1.1, 2.8, 0.6,
    3.9, 1.6, 2.4, 0.5, 1.2, 2.1, 0.8, 1.7, 0.3, 2.3,
    1.0, 2.6, 0.5, 3.4, 1.4, 0.7, 2.0, 1.2, 0.4, 1.8,
    2.2, 0.6, 1.5, 0.9, 2.3, 1.3, 4.5, 4.7, 3.3, 1.1,
    0.5, 1.6, 0.8, 1.2, 0.3, 1.0, 0.6, 1.4, 0.2, 0.9,
    0.5, 1.3, 0.3,
    # low band
    0.3, 0.5, 0.2, 0.6, 0.4, 0.1, 0.7, 0.3, 0.5, 0.2,
    0.6, 0.4, 0.8, 0.2, 0.5, 0.3, 0.7, 0.4, 0.6, 0.9,
    1.1, 0.5, 0.8, 0.3, 0.6, 0.4, 0.9, 1.3, 0.5, 0.7,
    0.4, 1.0, 0.6, 1.4, 0.3, 0.8, 0.5, 1.1, 0.4, 0.7,
    0.9, 0.5, 1.2, 0.7, 0.4, 1.0, 0.6, 0.3, 0.8, 0.5,
    0.7, 1.2, 0.4, 0.9, 0.6, 1.5, 0.8, 1.1, 2.0, 1.4,
    2.5, 1.0, 1.7, 2.2, 0.9, 1.6, 0.7, 1.2, 0.5, 0.8,
    0.4, 0.7, 0.3, 0.6, 0.9, 0.4, 0.6, 0.3, 0.8, 0.5,
    0.2, 0.6, 0.4, 0.7, 0.3, 0.5, 0.9, 0.4, 0.6, 0.8,
    0.5, 0.3, 0.7, 0.4, 0.2, 0.6, 0.3, 0.5, 0.2, 0.4,
    # band 2
    0.1, 0.8, 0.3, 1.1, 0.2, 0.6, 0.4, 1.3, 0.1, 0.9,
    0.3, 1.2, 0.2, 0.7, 0.4, 1.4, 0.1, 1.0, 0.3, 1.5,
    0.2, 1.3, 0.4, 1.7, 0.1, 1.1, 0.3, 1.6, 0.2, 1.9,
    0.4, 2.2, 0.3, 1.8, 0.1, 1.4, 0.2, 1.2, 0.4, 1.7,
    0.2, 1.5, 0.3, 2.0, 0.1, 1.3, 0.4, 1.8, 0.2, 2.1,
    0.3, 1.6, 0.1, 1.2, 0.4, 1.9, 0.2, 1.4, 0.3, 1.7,
    0.1, 1.8, 0.4, 2.2, 0.2, 1.5, 0.3, 1.1, 0.1, 1.9,
    0.3, 1.4, 0.2, 2.0, 0.4, 1.6, 0.1, 1.3, 0.3, 1.8,
    0.2, 2.1, 0.4, 1.5, 0.1, 2.4, 0.3, 1.9, 0.5, 2.7,
    0.3, 2.2, 0.6, 1.8, 0.2, 2.5, 0.4, 2.0, 0.7, 2.3,
    0.2, 1.9, 0.4, 1.4, 0.1, 1.7, 0.3, 1.2, 0.2, 1.5,
    0.4, 1.3, 0.1, 1.8, 0.3, 1.1, 0.2, 1.6, 0.4, 2.0,
    0.1, 1.4, 0.3, 1.9, 0.2, 1.2, 0.4, 1.7, 0.1, 1.5,
    0.3, 1.8, 0.2, 1.3, 0.4, 2.0, 0.1, 1.6, 0.3, 1.2,
    0.2, 1.0, 0.4, 1.3, 0.1, 0.8, 0.3, 1.1, 0.2, 0.7,
    # band 3
    0.2, 0.5, 0.1, 0.4, 0.6, 0.3, 0.2, 0.5, 0.3, 0.7,
    0.4, 0.2, 0.6, 0.3, 0.8, 0.5, 0.2, 0.6, 0.4, 0.7,
    0.9, 0.5, 1.0, 0.6, 0.8, 0.4, 0.7, 0.3, 0.9, 0.5,
    0.6, 0.8, 0.4, 1.0, 0.5, 0.7, 0.3, 0.9, 0.6, 0.4,
    0.8, 0.5, 0.9, 0.3, 0.7, 1.1, 0.4, 0.8, 0.6, 0.5,
    0.9, 0.6, 1.1, 0.4, 0.8, 1.2, 0.7, 1.0, 0.5, 1.3,
    0.8, 1.1, 0.6, 1.4, 0.9, 0.7, 1.0, 0.5, 0.8, 0.4,
    0.3, 0.6, 0.2, 0.5, 0.7, 0.3, 0.6, 0.4, 0.2, 0.5,
    0.4, 0.7, 0.3, 0.6, 0.2, 0.5, 0.8, 0.4, 0.6, 0.3,
    0.5, 0.3, 0.6, 0.2, 0.4, 0.7, 0.3, 0.5, 0.2, 0.4,
]
chr10_bot = [
    0.5, 0.2, 1.1, 0.4, 0.8, 1.3, 0.3, 0.9, 0.6, 1.5,
    1.0, 3.0, 0.4, 1.7, 0.7, 1.2, 0.3, 1.6, 0.5, 1.0,
    0.3, 1.4, 0.8, 1.7, 0.4, 1.1, 2.1, 0.6, 1.3, 0.5,
    1.6, 0.4, 1.0, 0.7, 1.5, 0.3, 1.2, 0.6, 1.8, 0.9,
    3.3, 5.2, 5.0, 4.0, 3.1, 2.2, 0.8, 1.9, 0.5, 1.4,
    1.1, 0.4, 1.6, 0.7, 1.3, 4.6, 0.5, 1.0, 1.8, 0.3,
    1.2, 2.4, 3.4, 4.5, 3.7, 2.6, 1.5, 0.6, 2.0, 1.0,
    0.4, 1.7, 0.9, 2.2, 0.5, 1.4, 1.9, 0.7, 1.2, 2.1,
    0.6, 1.5, 0.3, 1.8, 1.0, 2.3, 0.5, 1.3, 1.7, 0.8,
    2.0, 0.4, 1.1, 1.6, 0.6, 1.3, 0.3, 0.9, 1.5, 0.5,
    0.8, 0.3, 1.2, 0.6, 1.5, 0.4, 1.0, 2.0, 0.7, 1.4,
    2.4, 0.9, 3.5, 1.6, 2.1, 0.6, 2.7, 1.8, 1.2, 2.2,
    5.8, 1.5, 2.5, 4.0, 1.1, 2.2, 0.7, 1.9, 2.4, 1.3,
    2.0, 0.8, 1.7, 2.3, 1.0, 2.1, 0.5, 1.8, 1.2, 2.6,
    1.4, 0.6, 2.0, 1.1, 1.6, 0.4, 1.3, 0.8, 1.0, 0.3,
    0.7, 1.2, 0.4, 0.9, 0.2, 0.6, 1.1, 0.5, 1.5, 0.8,
    1.3, 0.5, 1.9, 0.9, 1.6, 0.4, 2.2, 1.2, 0.7, 1.8,
    1.1, 2.3, 0.6, 1.5, 2.0, 0.8, 1.4, 0.4, 1.7, 1.0,
    0.5, 1.3, 2.1, 0.7, 1.2, 1.9, 0.9, 4.3, 3.4, 1.6,
    1.0, 0.4, 1.4, 0.7, 1.1, 0.3, 0.8, 1.3, 0.5, 0.6,
    0.9, 0.3, 0.5,
    # low band
    0.4, 0.2, 0.6, 0.3, 0.5, 0.8, 0.2, 0.4, 0.6, 0.3,
    0.5, 0.7, 0.3, 0.6, 0.2, 0.4, 0.5, 0.3, 0.7, 0.4,
    0.8, 0.3, 0.5, 0.6, 0.2, 0.4, 0.7, 0.5, 0.3, 0.6,
    0.9, 0.4, 0.7, 0.3, 0.6, 0.5, 0.2, 0.8, 0.4, 0.6,
    0.3, 0.5, 0.8, 0.4, 0.6, 0.2, 0.5, 0.3, 0.7, 0.4,
    0.5, 0.3, 0.6, 0.2, 0.4, 0.7, 0.5, 0.9, 0.6, 1.0,
    0.7, 0.4, 0.8, 0.5, 0.9, 0.3, 0.6, 0.4, 0.7, 0.5,
    0.3, 0.6, 0.2, 0.5, 0.4, 0.3, 0.6, 0.8, 0.4, 0.5,
    0.6, 0.3, 0.7, 0.5, 0.2, 0.4, 0.6, 0.3, 0.5, 0.7,
    0.8, 0.4, 0.6, 0.3, 0.5, 0.2, 0.4, 0.3, 0.5, 0.2,
    # band 2
    0.2, 1.0, 0.1, 0.7, 0.3, 1.2, 0.2, 0.9, 0.4, 1.4,
    0.1, 0.8, 0.3, 1.3, 0.2, 1.1, 0.4, 0.6, 0.1, 1.2,
    0.3, 1.5, 0.2, 1.0, 0.4, 1.3, 0.1, 0.9, 0.3, 1.6,
    0.2, 1.9, 0.4, 1.5, 0.1, 1.2, 0.3, 1.7, 0.2, 1.1,
    0.4, 1.4, 0.1, 1.8, 0.3, 1.2, 0.2, 2.0, 0.4, 1.6,
    0.1, 1.3, 0.3, 1.7, 0.2, 1.1, 0.4, 1.5, 0.1, 1.8,
    0.3, 1.2, 0.2, 1.6, 0.1, 1.4, 0.4, 1.0, 0.2, 1.3,
    0.4, 1.1, 0.1, 1.5, 0.3, 0.9, 0.2, 1.4, 0.4, 1.2,
    0.2, 1.6, 0.3, 2.0, 0.1, 1.7, 0.4, 2.2, 0.2, 1.9,
    0.3, 2.1, 0.1, 1.8, 0.4, 2.3, 0.2, 1.6, 0.3, 2.0,
    0.1, 1.7, 0.4, 1.3, 0.2, 1.5, 0.3, 1.1, 0.1, 1.4,
    0.3, 1.0, 0.2, 1.3, 0.4, 0.8, 0.1, 1.2, 0.3, 1.5,
    0.2, 1.7, 0.4, 1.2, 0.1, 1.9, 0.3, 1.4, 0.2, 2.0,
    0.4, 1.5, 0.1, 1.8, 0.3, 1.2, 0.2, 1.6, 0.4, 1.3,
    0.1, 1.1, 0.3, 0.8, 0.2, 1.2, 0.4, 0.9, 0.1, 0.6,
    # band 3
    0.3, 0.6, 0.2, 0.5, 0.1, 0.4, 0.7, 0.3, 0.5, 0.2,
    0.6, 0.3, 0.5, 0.2, 0.4, 0.7, 0.3, 0.5, 0.6, 0.2,
    0.4, 0.7, 0.3, 0.6, 0.5, 0.8, 0.2, 0.4, 0.6, 0.3,
    0.5, 0.2, 0.7, 0.4, 0.6, 0.3, 0.5, 0.2, 0.7, 0.4,
    0.6, 0.3, 0.5, 0.8, 0.4, 0.2, 0.6, 0.3, 0.5, 0.7,
    0.4, 0.7, 0.5, 0.9, 0.6, 0.8, 0.4, 1.0, 0.7, 0.9,
    0.6, 0.8, 0.5, 0.9, 0.7, 0.4, 0.8, 0.6, 0.3, 0.5,
    0.2, 0.5, 0.3, 0.6, 0.4, 0.2, 0.5, 0.7, 0.3, 0.6,
    0.4, 0.6, 0.2, 0.5, 0.7, 0.3, 0.6, 0.4, 0.8, 0.5,
    0.7, 0.3, 0.5, 0.2, 0.6, 0.4, 0.3, 0.5, 0.2, 0.4,
]

# axis ticks (bp) and labels as printed in the original
chr2_ticks = [0, 5e7, 1e8, 1.5e8]
chr2_ticklabels = ["0.0e+00", "5.0e+07", "1.0e+08", "1.5e+08"]
chr7_ticks = [0, 4e7, 8e7, 1.2e8]
chr7_ticklabels = ["0.0e+00", "4.0e+07", "8.0e+07", "1.2e+08"]
chr10_ticks = [0, 2e7, 4e7, 6e7, 8e7]
chr10_ticklabels = ["0e+00", "2e+07", "4e+07", "6e+07", "8e+07"]
y_ticks = [0, 5, 10, 15, 20, 25, 30]

chroms = [
    dict(pos=chr2_pos, top=chr2_top, bot=chr2_bot, ticks=chr2_ticks,
         labels=chr2_ticklabels, xlim=(-5.0e6, 1.67e8)),
    dict(pos=chr7_pos, top=chr7_top, bot=chr7_bot, ticks=chr7_ticks,
         labels=chr7_ticklabels, xlim=(-4.1e6, 1.39e8)),
    dict(pos=chr10_pos, top=chr10_top, bot=chr10_bot, ticks=chr10_ticks,
         labels=chr10_ticklabels, xlim=(-2.4e6, 8.05e7)),
]

# ---- style ----
sns.set_theme(style="ticks")
plt.rcParams['font.family'] = ['Liberation Sans', 'DejaVu Sans']
plt.rcParams['mathtext.fontset'] = 'custom'
plt.rcParams['mathtext.rm'] = 'Liberation Sans'
plt.rcParams['mathtext.it'] = 'Liberation Sans:italic'

W, H = 709, 654
fig = plt.figure(figsize=(W / 100, H / 100), dpi=100)

col_left = [43, 283, 522]
col_right = [215, 456, 694]
row_top = [31, 353]
row_bottom = [287, 609]
ink = "#1a1a1a"

for r in range(2):
    for c, ch in enumerate(chroms):
        x0, x1 = col_left[c], col_right[c]
        y0, y1 = row_top[r], row_bottom[r]
        ax = fig.add_axes([x0 / W, 1 - y1 / H, (x1 - x0) / W, (y1 - y0) / H])
        df = pd.DataFrame({
            "position": np.array(ch["pos"]) * 1e6,
            "logp": ch["top"] if r == 0 else ch["bot"],
        })
        sns.scatterplot(data=df, x="position", y="logp", ax=ax, s=9,
                        color="#111111", linewidth=0, legend=False)
        ax.axhline(threshold, color="#3535e8", lw=1.0, zorder=3)

        ax.set_xlim(*ch["xlim"])
        ax.set_ylim(-0.25, 30)
        ax.set_xticks(ch["ticks"])
        ax.set_xticklabels(ch["labels"])
        ax.set_yticks(y_ticks)
        ax.set_xlabel("")
        ax.set_ylabel("")
        ax.set_facecolor("white")
        for side in ["top", "right"]:
            ax.spines[side].set_visible(False)
        ax.spines["left"].set_bounds(0, 30)
        ax.spines["bottom"].set_bounds(ch["ticks"][0], ch["ticks"][-1])
        for side in ["left", "bottom"]:
            ax.spines[side].set_color(ink)
            ax.spines[side].set_linewidth(0.8)
        ax.tick_params(axis="both", direction="out", length=5, width=0.8,
                       color=ink, labelcolor=ink, labelsize=7.5, pad=3)

        # labels placed like the original (left-leaning)
        fig.text((x0 + 3) / W, 1 - (y1 + 35) / H, "position", fontsize=7.3,
                 ha="left", va="center", color=ink)
        fig.text((x0 - 36) / W, 1 - (y1 - 29) / H, r"$-\mathrm{log}_{10}(p)$",
                 fontsize=8.5, rotation=90, ha="center", va="center", color=ink)
        if r == 0:
            fig.text((x0 + 2) / W, 1 - 7.5 / H, titles[c], fontsize=9,
                     fontweight="bold", ha="left", va="center", color="black")

fig.savefig("out.png", dpi=100, facecolor="white")
